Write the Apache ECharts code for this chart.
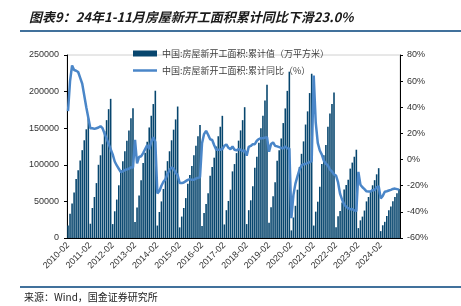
<!DOCTYPE html>
<html><head><meta charset="utf-8">
<script src="https://cdn.jsdelivr.net/npm/echarts@6/dist/echarts.min.js"></script>
<style>html,body{margin:0;padding:0;background:#fff}#c{width:461px;height:306px}</style>
</head><body><div id="c"></div>
<script>
// ---- data ----
const titleText = '图表9：24年1-11月房屋新开工面积累计同比下滑23.0%';
const sourceText = '来源：Wind，国金证券研究所';
const barName = '中国:房屋新开工面积:累计值（万平方米）';
const lineName = '中国:房屋新开工面积:累计同比（%）';
const years = [2010,2011,2012,2013,2014,2015,2016,2017,2018,2019,2020,2021,2022,2023,2024];
const months = ['02','03','04','05','06','07','08','09','10','11','12'];
const lastMonth = '11';

// cumulative new construction area (万平方米), per year Feb..Dec
const area2010 = [17000,33000,47000,62000,80500,92600,106000,120000,133500,148500,163600];
const area2011 = [19500,41000,56000,75000,100000,113000,128000,146000,161000,176000,190100];
const area2012 = [19000,36500,52500,72000,93000,105000,118500,133000,147000,163500,177300];
const area2013 = [22000,41500,58000,79000,102500,116500,131500,151000,167000,183000,201200];
const area2014 = [17000,35500,50000,67000,92000,105000,118500,133500,148000,162000,179600];
const area2015 = [14500,29300,41000,54500,74000,86000,98500,113000,126000,139000,154500];
const area2016 = [16500,34000,46600,61000,85000,97000,109700,125000,139000,152000,166900];
const area2017 = [18500,38000,50600,66000,91000,101000,116000,133000,147000,161000,178700];
const area2018 = [19000,38000,51500,70700,96000,111000,130000,150000,167000,188000,209300];
const area2019 = [21000,42000,57000,76000,105500,120000,136000,157000,177000,201000,227200];
const area2020 = [10400,28000,44000,66000,97000,115000,132000,155000,173000,198000,224400];
const area2021 = [17000,36000,49600,70000,101000,113000,127000,152000,170000,183000,198900];
const area2022 = [14800,29700,36800,48500,66400,72500,79600,94800,103000,111000,120600];
const area2023 = [13500,24100,29200,37500,50000,56000,63000,72000,79000,87000,95400];
const area2024 = [9400,17400,22100,30100,38000,43000,50300,56000,61200,67000];

// cumulative YoY (%)
const yoy2010 = [37,60,72,68.5,68,67,62.5,58,49,40,32];
const yoy2011 = [24,24,23.5,24,24.5,25.5,24,20,16,12,8];
const yoy2012 = [4,-1.5,-4.5,-7,-9.5,-9,-8,-7.5,-7,-6,-6];
const yoy2013 = [15,-3,2,2.5,5,8,11,8,13.5,17,13.5];
const yoy2014 = [-26,-24,-20,-17,-15,-11,-8,-6,-7,-10,-12];
const yoy2015 = [-18,-18,-17.5,-16.5,-15.5,-15,-15.5,-15.5,-14.5,-14,-13.5];
const yoy2016 = [12.5,19.5,22,19,15.5,15,11,7.5,7.5,7.5,8.1];
const yoy2017 = [10.5,11.6,9,8,10,7.5,7,8,7.5,6.5,7];
const yoy2018 = [3,9.7,10.4,11.8,11.8,14.4,15.7,16.4,16.3,16.8,17.2];
const yoy2019 = [6,11.9,13.1,10.5,10.1,9.5,8.9,8.6,10,8.6,8.5];
const yoy2020 = [-44.9,-27.2,-18.4,-12.8,-7.6,-4.5,-3.6,-3.4,-2.5,-2,-1.2];
const yoy2021 = [64.3,28.2,12.8,6.9,3.8,-0.9,-3.2,-4.5,-7.7,-9.1,-11.4];
const yoy2022 = [-12.2,-17.5,-26.3,-30.6,-34.4,-36.1,-37.2,-38,-37.8,-38.9,-39.4];
const yoy2023 = [-9.4,-19.2,-21.2,-22.6,-24.3,-24.5,-24.4,-23.4,-23.2,-21.2,-20.4];
const yoy2024 = [-29.7,-27.8,-24.6,-24.2,-23.7,-23.2,-22.5,-22.2,-22.6,-23.0];

const leftTicks = [0,50000,100000,150000,200000,250000];
const rightTicks = [-60,-40,-20,0,20,40,60,80];

// ---- build ----
const categories = [];
years.forEach(y => { for (const m of months) { categories.push(y + '-' + m); if (y === 2024 && m === lastMonth) break; } });
const areaData = [].concat(area2010,area2011,area2012,area2013,area2014,area2015,area2016,area2017,area2018,area2019,area2020,area2021,area2022,area2023,area2024);
const yoyData = [].concat(yoy2010,yoy2011,yoy2012,yoy2013,yoy2014,yoy2015,yoy2016,yoy2017,yoy2018,yoy2019,yoy2020,yoy2021,yoy2022,yoy2023,yoy2024);

const FONT = '"Liberation Sans", Arial, sans-serif';
const CJK = '"Noto Sans CJK SC", sans-serif';
const chart = echarts.init(document.getElementById('c'), null, {renderer: 'canvas'});
chart.setOption({
  animation: false,
  backgroundColor: '#fff',
  title: {
    text: titleText, left: 24, top: 6,
    textStyle: {fontFamily: CJK, fontSize: 13, fontWeight: 'bold', fontStyle: 'italic', color: '#1a1a1a'}
  },
  graphic: [
    {type: 'line', shape: {x1: 20, y1: 31, x2: 461, y2: 31}, style: {stroke: '#41719c', lineWidth: 2}},
    {type: 'line', shape: {x1: 20, y1: 287, x2: 461, y2: 287}, style: {stroke: '#41719c', lineWidth: 2}},
    {type: 'text', left: 24, top: 292, style: {text: sourceText, fontFamily: CJK, fontSize: 10, fill: '#222'}}
  ],
  legend: [
    {left: 128, top: 44, itemWidth: 24, itemHeight: 6, itemGap: 8,
     textStyle: {fontFamily: CJK, fontSize: 9, color: '#404040'},
     data: [{name: barName, icon: 'rect'}]},
    {left: 128, top: 61, itemWidth: 24, itemHeight: 2.5, itemGap: 8,
     textStyle: {fontFamily: CJK, fontSize: 9, color: '#404040'},
     data: [{name: lineName, icon: 'rect'}]}
  ],
  grid: {left: 67, right: 61, top: 55, bottom: 68, show: true, borderColor: '#d0d0d0', borderWidth: 1},
  xAxis: {
    type: 'category', data: categories, boundaryGap: true,
    axisLine: {lineStyle: {color: '#000', width: 1}},
    axisTick: {interval: 10, length: 3, lineStyle: {color: '#000'}},
    axisLabel: {interval: 10, rotate: 45, fontSize: 9, fontFamily: FONT, color: '#333', margin: 6}
  },
  yAxis: [
    {type: 'value', min: leftTicks[0], max: leftTicks[leftTicks.length-1], interval: 50000,
     axisLine: {show: true, lineStyle: {color: '#000'}}, axisTick: {show: true, length: 3, lineStyle: {color: '#000'}},
     splitLine: {show: false},
     axisLabel: {fontSize: 9, fontFamily: FONT, color: '#333', margin: 8, formatter: v => String(v)}},
    {type: 'value', min: rightTicks[0], max: rightTicks[rightTicks.length-1], interval: 20, position: 'right',
     axisLine: {show: true, lineStyle: {color: '#000'}}, axisTick: {show: true, length: 3, lineStyle: {color: '#000'}},
     splitLine: {show: false},
     axisLabel: {fontSize: 9, fontFamily: FONT, color: '#333', margin: 7, formatter: '{value}%'}}
  ],
  series: [
    {name: barName, type: 'bar', data: areaData, yAxisIndex: 0, barWidth: '78%',
     itemStyle: {color: '#07466e'}},
    {name: lineName, type: 'line', data: yoyData, yAxisIndex: 1, symbol: 'none', z: 5,
     lineStyle: {color: '#4a86c8', width: 2.5}, itemStyle: {color: '#4a86c8'}}
  ]
});
</script></body></html>
